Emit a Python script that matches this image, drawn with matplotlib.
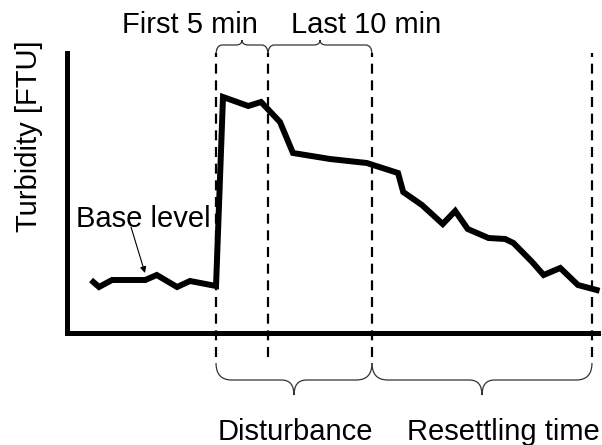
import matplotlib.pyplot as plt
from matplotlib.path import Path
from matplotlib.patches import PathPatch

plt.rcParams['font.family'] = ['Liberation Sans', 'DejaVu Sans']

# turbidity curve (time in min relative to start of disturbance, arbitrary FTU)
time_min = [-11.8, -11.25, -10.0, -6.8, -5.7, -3.75, -2.5, 0.0, 0.67, 3.1, 4.33,
            6.15, 7.4, 10.96, 14.5, 17.5, 18.0, 19.8, 21.8, 23.0, 24.2, 26.2,
            27.8, 28.6, 30.4, 31.5, 33.1, 34.8, 36.6]
turbidity = [25.5, 23.0, 26.5, 26.5, 29.0, 23.0, 26.0, 23.5, 118.0, 113.5, 115.5,
             105.5, 90.0, 87.0, 85.0, 80.0, 70.5, 64.0, 54.5, 61.0, 52.0, 47.5,
             47.0, 45.0, 35.5, 29.0, 32.5, 24.0, 21.5]

# phase boundaries
t_start = 0.0
t_first = 5.0
t_dist_end = 15.0
t_settled = 36.15

W, H = 602, 445


def fx(px):
    return px / W


def fy(py):
    return 1 - py / H


def brace(ax, x1, x2, y_end, y_mid, y_tip, r, rc):
    xc = (x1 + x2) / 2
    verts = [(x1, y_end), (x1, y_mid), (x1 + r, y_mid), (xc - rc, y_mid),
             (xc, y_mid), (xc, y_tip), (xc, y_mid), (xc + rc, y_mid),
             (x2 - r, y_mid), (x2, y_mid), (x2, y_end)]
    codes = [Path.MOVETO, Path.CURVE3, Path.CURVE3, Path.LINETO,
             Path.CURVE3, Path.CURVE3, Path.CURVE3, Path.CURVE3,
             Path.LINETO, Path.CURVE3, Path.CURVE3]
    ax.add_patch(PathPatch(Path(verts, codes), fill=False, lw=0.9,
                           edgecolor='#333333', clip_on=False))


fig = plt.figure(figsize=(W / 100, H / 100), dpi=100)
ax = fig.add_axes([fx(67), fy(333), fx(598) - fx(67), fy(53) - fy(333)])
ax.set_xlim(-14.33, 36.73)
ax.set_ylim(0, 140)
for side in ['top', 'right']:
    ax.spines[side].set_visible(False)
for side in ['left', 'bottom']:
    ax.spines[side].set_linewidth(3.6)
ax.set_xticks([])
ax.set_yticks([])
ax.patch.set_alpha(0)

ax.plot(time_min, turbidity, color='black', lw=4.3, clip_on=False,
        solid_joinstyle='miter')

for t in [t_start, t_first, t_dist_end, t_settled]:
    ax.plot([t, t], [-12, 140], color='black', lw=1.6, dashes=(4.5, 3),
            clip_on=False)

brace(ax, t_start, t_first, 139, 144, 146.5, 0.6, 0.6)
brace(ax, t_first, t_dist_end, 139, 144, 146.5, 0.6, 0.6)
brace(ax, t_start, t_dist_end, -15, -23.5, -31, 1.5, 1.2)
brace(ax, t_dist_end, t_settled, -15, -23.5, -31, 1.5, 1.2)

fs = 21
fig.text(fx(190), fy(33), 'First 5 min', ha='center', va='baseline', fontsize=fs)
fig.text(fx(366), fy(33), 'Last 10 min', ha='center', va='baseline', fontsize=fs)
fig.text(fx(295), fy(440), 'Disturbance', ha='center', va='baseline', fontsize=fs)
fig.text(fx(503), fy(440), 'Resettling time', ha='center', va='baseline', fontsize=fs)
fig.text(fx(37), fy(136), 'Turbidity [FTU]', ha='center', va='baseline',
         rotation=90, rotation_mode='anchor', fontsize=fs)
fig.text(fx(143), fy(227), 'Base level', ha='center', va='baseline', fontsize=fs)

ax.annotate('', xy=(fx(145), fy(273)), xytext=(fx(131), fy(227)),
            xycoords='figure fraction', textcoords='figure fraction',
            arrowprops=dict(arrowstyle='-|>', lw=0.8, color='black',
                            mutation_scale=9, shrinkA=0, shrinkB=0))

fig.savefig('out.png', dpi=100)
